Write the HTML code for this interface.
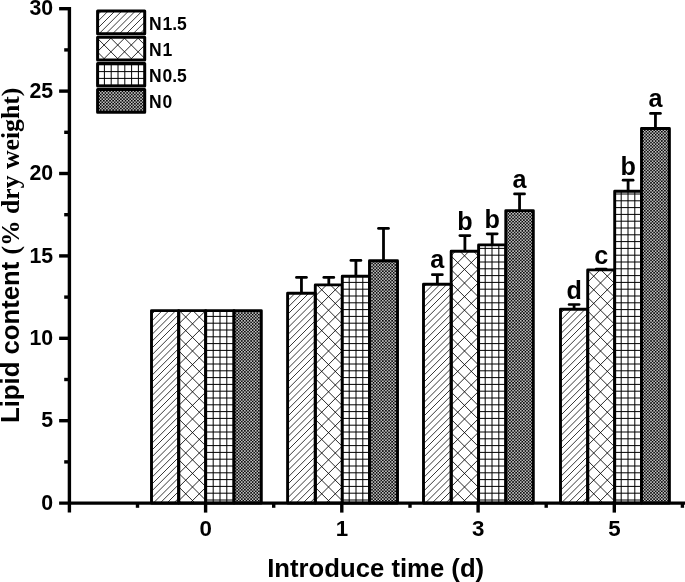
<!DOCTYPE html>
<html lang="en"><head><meta charset="utf-8"><title>Lipid content</title>
<style>
html,body{margin:0;padding:0;background:#fff;}
body{width:685px;height:582px;overflow:hidden;}
svg{display:block;}
text{font-family:"Liberation Sans",Arial,sans-serif;font-weight:bold;fill:#000;}
.serif{font-family:"Liberation Serif","Times New Roman",serif;font-weight:bold;}
</style></head><body>
<svg width="685" height="582" viewBox="0 0 685 582">
<defs>
<pattern id="p1" patternUnits="userSpaceOnUse" width="34" height="34"><path d="M-2.00 -8.00L-8.00 -2.00M-2.00 -1.20L-1.20 -2.00M-2.00 5.60L5.60 -2.00M-2.00 12.40L12.40 -2.00M-2.00 19.20L19.20 -2.00M-2.00 26.00L26.00 -2.00M-2.00 32.80L32.80 -2.00M-2.00 39.60L39.60 -2.00M-2.00 46.40L46.40 -2.00M-2.00 53.20L53.20 -2.00M-2.00 60.00L60.00 -2.00M-2.00 66.80L66.80 -2.00M-2.00 73.60L73.60 -2.00" stroke="#000" stroke-width="0.78" fill="none"/></pattern>
<pattern id="p2" patternUnits="userSpaceOnUse" width="68" height="68"><path d="M-2.00 -12.10L-12.10 -2.00M-2.00 1.50L1.50 -2.00M-2.00 15.10L15.10 -2.00M-2.00 28.70L28.70 -2.00M-2.00 42.30L42.30 -2.00M-2.00 55.90L55.90 -2.00M-2.00 69.50L69.50 -2.00M-2.00 83.10L83.10 -2.00M-2.00 96.70L96.70 -2.00M-2.00 110.30L110.30 -2.00M-2.00 123.90L123.90 -2.00M-2.00 137.50L137.50 -2.00M-2.00 151.10L151.10 -2.00M-92.50 -2.00L-20.50 70.00M-78.90 -2.00L-6.90 70.00M-65.30 -2.00L6.70 70.00M-51.70 -2.00L20.30 70.00M-38.10 -2.00L33.90 70.00M-24.50 -2.00L47.50 70.00M-10.90 -2.00L61.10 70.00M2.70 -2.00L74.70 70.00M16.30 -2.00L88.30 70.00M29.90 -2.00L101.90 70.00M43.50 -2.00L115.50 70.00M57.10 -2.00L129.10 70.00M70.70 -2.00L142.70 70.00" stroke="#000" stroke-width="0.85" fill="none"/></pattern>
<pattern id="p4" patternUnits="userSpaceOnUse" width="3.1" height="3.1"><rect width="3.1" height="3.1" fill="#fff"/><path d="M-2.00 -1.10L-1.10 -2.00M-2.00 2.00L2.00 -2.00M-2.00 5.10L5.10 -2.00M-2.00 8.20L8.20 -2.00M-2.00 11.30L11.30 -2.00M-8.20 -2.00L-1.10 5.10M-5.10 -2.00L2.00 5.10M-2.00 -2.00L5.10 5.10M1.10 -2.00L8.20 5.10M4.20 -2.00L11.30 5.10" stroke="#000" stroke-width="0.78" fill="none"/></pattern>
</defs>
<rect width="685" height="582" fill="#fff"/>
<g stroke="#000" stroke-width="2.9" stroke-linejoin="round">
<rect x="151.50" y="310.60" width="27.20" height="192.50" fill="url(#p1)"/>
<rect x="178.70" y="310.60" width="27.00" height="192.50" fill="url(#p2)"/>
<rect x="205.70" y="310.60" width="28.30" height="192.50" fill="#fff" stroke="none"/>
<path d="M206.4 310.6V503.1M213.2 310.6V503.1M220.0 310.6V503.1M226.8 310.6V503.1M233.6 310.6V503.1M205.7 316.4H234.0M205.7 323.2H234.0M205.7 330.0H234.0M205.7 336.8H234.0M205.7 343.6H234.0M205.7 350.4H234.0M205.7 357.2H234.0M205.7 364.0H234.0M205.7 370.8H234.0M205.7 377.6H234.0M205.7 384.4H234.0M205.7 391.2H234.0M205.7 398.0H234.0M205.7 404.8H234.0M205.7 411.6H234.0M205.7 418.4H234.0M205.7 425.2H234.0M205.7 432.0H234.0M205.7 438.8H234.0M205.7 445.6H234.0M205.7 452.4H234.0M205.7 459.2H234.0M205.7 466.0H234.0M205.7 472.8H234.0M205.7 479.6H234.0M205.7 486.4H234.0M205.7 493.2H234.0M205.7 500.0H234.0" stroke="#000" stroke-width="1" fill="none"/>
<rect x="205.70" y="310.60" width="28.30" height="192.50" fill="none"/>
<rect x="234.00" y="310.60" width="27.30" height="192.50" fill="url(#p4)"/>
<rect x="287.60" y="293.20" width="27.70" height="209.90" fill="url(#p1)"/>
<rect x="315.30" y="284.90" width="27.00" height="218.20" fill="url(#p2)"/>
<rect x="342.30" y="276.30" width="27.20" height="226.80" fill="#fff" stroke="none"/>
<path d="M342.4 276.3V503.1M349.2 276.3V503.1M356.0 276.3V503.1M362.8 276.3V503.1M342.3 282.4H369.5M342.3 289.2H369.5M342.3 296.0H369.5M342.3 302.8H369.5M342.3 309.6H369.5M342.3 316.4H369.5M342.3 323.2H369.5M342.3 330.0H369.5M342.3 336.8H369.5M342.3 343.6H369.5M342.3 350.4H369.5M342.3 357.2H369.5M342.3 364.0H369.5M342.3 370.8H369.5M342.3 377.6H369.5M342.3 384.4H369.5M342.3 391.2H369.5M342.3 398.0H369.5M342.3 404.8H369.5M342.3 411.6H369.5M342.3 418.4H369.5M342.3 425.2H369.5M342.3 432.0H369.5M342.3 438.8H369.5M342.3 445.6H369.5M342.3 452.4H369.5M342.3 459.2H369.5M342.3 466.0H369.5M342.3 472.8H369.5M342.3 479.6H369.5M342.3 486.4H369.5M342.3 493.2H369.5M342.3 500.0H369.5" stroke="#000" stroke-width="1" fill="none"/>
<rect x="342.30" y="276.30" width="27.20" height="226.80" fill="none"/>
<rect x="369.50" y="260.70" width="28.00" height="242.40" fill="url(#p4)"/>
<rect x="423.50" y="284.30" width="27.70" height="218.80" fill="url(#p1)"/>
<rect x="451.20" y="251.30" width="27.40" height="251.80" fill="url(#p2)"/>
<rect x="478.60" y="244.90" width="27.20" height="258.20" fill="#fff" stroke="none"/>
<path d="M485.2 244.9V503.1M492.0 244.9V503.1M498.8 244.9V503.1M505.6 244.9V503.1M478.6 248.4H505.8M478.6 255.2H505.8M478.6 262.0H505.8M478.6 268.8H505.8M478.6 275.6H505.8M478.6 282.4H505.8M478.6 289.2H505.8M478.6 296.0H505.8M478.6 302.8H505.8M478.6 309.6H505.8M478.6 316.4H505.8M478.6 323.2H505.8M478.6 330.0H505.8M478.6 336.8H505.8M478.6 343.6H505.8M478.6 350.4H505.8M478.6 357.2H505.8M478.6 364.0H505.8M478.6 370.8H505.8M478.6 377.6H505.8M478.6 384.4H505.8M478.6 391.2H505.8M478.6 398.0H505.8M478.6 404.8H505.8M478.6 411.6H505.8M478.6 418.4H505.8M478.6 425.2H505.8M478.6 432.0H505.8M478.6 438.8H505.8M478.6 445.6H505.8M478.6 452.4H505.8M478.6 459.2H505.8M478.6 466.0H505.8M478.6 472.8H505.8M478.6 479.6H505.8M478.6 486.4H505.8M478.6 493.2H505.8M478.6 500.0H505.8" stroke="#000" stroke-width="1" fill="none"/>
<rect x="478.60" y="244.90" width="27.20" height="258.20" fill="none"/>
<rect x="505.80" y="210.60" width="27.50" height="292.50" fill="url(#p4)"/>
<rect x="560.50" y="309.20" width="27.20" height="193.90" fill="url(#p1)"/>
<rect x="587.70" y="269.90" width="27.00" height="233.20" fill="url(#p2)"/>
<rect x="614.70" y="191.30" width="26.80" height="311.80" fill="#fff" stroke="none"/>
<path d="M621.2 191.3V503.1M628.0 191.3V503.1M634.8 191.3V503.1M614.7 194.0H641.5M614.7 200.8H641.5M614.7 207.6H641.5M614.7 214.4H641.5M614.7 221.2H641.5M614.7 228.0H641.5M614.7 234.8H641.5M614.7 241.6H641.5M614.7 248.4H641.5M614.7 255.2H641.5M614.7 262.0H641.5M614.7 268.8H641.5M614.7 275.6H641.5M614.7 282.4H641.5M614.7 289.2H641.5M614.7 296.0H641.5M614.7 302.8H641.5M614.7 309.6H641.5M614.7 316.4H641.5M614.7 323.2H641.5M614.7 330.0H641.5M614.7 336.8H641.5M614.7 343.6H641.5M614.7 350.4H641.5M614.7 357.2H641.5M614.7 364.0H641.5M614.7 370.8H641.5M614.7 377.6H641.5M614.7 384.4H641.5M614.7 391.2H641.5M614.7 398.0H641.5M614.7 404.8H641.5M614.7 411.6H641.5M614.7 418.4H641.5M614.7 425.2H641.5M614.7 432.0H641.5M614.7 438.8H641.5M614.7 445.6H641.5M614.7 452.4H641.5M614.7 459.2H641.5M614.7 466.0H641.5M614.7 472.8H641.5M614.7 479.6H641.5M614.7 486.4H641.5M614.7 493.2H641.5M614.7 500.0H641.5" stroke="#000" stroke-width="1" fill="none"/>
<rect x="614.70" y="191.30" width="26.80" height="311.80" fill="none"/>
<rect x="641.50" y="128.50" width="27.90" height="374.60" fill="url(#p4)"/>
</g>
<g stroke="#000" stroke-width="2.8" stroke-linecap="butt" fill="none">
<path d="M301.45 293.20V277.40"/><path stroke-linecap="round" stroke-width="2.7" d="M296.45 277.40H306.45"/>
<path d="M328.80 284.90V277.40"/><path stroke-linecap="round" stroke-width="2.7" d="M323.80 277.40H333.80"/>
<path d="M355.90 276.30V260.40"/><path stroke-linecap="round" stroke-width="2.7" d="M350.90 260.40H360.90"/>
<path d="M383.50 260.70V228.40"/><path stroke-linecap="round" stroke-width="2.7" d="M378.50 228.40H388.50"/>
<path d="M437.35 284.30V274.70"/><path stroke-linecap="round" stroke-width="2.7" d="M432.35 274.70H442.35"/>
<path d="M464.90 251.30V235.60"/><path stroke-linecap="round" stroke-width="2.7" d="M459.90 235.60H469.90"/>
<path d="M492.20 244.90V233.80"/><path stroke-linecap="round" stroke-width="2.7" d="M487.20 233.80H497.20"/>
<path d="M519.55 210.60V193.90"/><path stroke-linecap="round" stroke-width="2.7" d="M514.55 193.90H524.55"/>
<path d="M574.10 309.20V304.50"/><path stroke-linecap="round" stroke-width="2.7" d="M569.10 304.50H579.10"/>
<path d="M601.20 269.90V269.20"/><path stroke-linecap="round" stroke-width="2.7" d="M596.20 269.20H606.20"/>
<path d="M628.10 191.30V180.20"/><path stroke-linecap="round" stroke-width="2.7" d="M623.10 180.20H633.10"/>
<path d="M655.45 128.50V113.40"/><path stroke-linecap="round" stroke-width="2.7" d="M650.45 113.40H660.45"/>
</g>
<g font-size="25.2" text-anchor="middle">
<text x="437.35" y="268.2">a</text>
<text x="464.90" y="230.0">b</text>
<text x="492.20" y="228.0">b</text>
<text x="519.55" y="187.9">a</text>
<text x="574.10" y="299.4">d</text>
<text x="601.20" y="264.1">c</text>
<text x="628.10" y="174.6">b</text>
<text x="655.45" y="107.3">a</text>
</g>
<g stroke="#000" stroke-width="3.4" fill="none">
<path d="M69.4 7.00V512.6"/>
<path d="M59.1 503.1H685"/>
<path d="M64.2 461.90H69.4"/>
<path d="M59.1 420.70H69.4"/>
<path d="M64.2 379.50H69.4"/>
<path d="M59.1 338.30H69.4"/>
<path d="M64.2 297.10H69.4"/>
<path d="M59.1 255.90H69.4"/>
<path d="M64.2 214.70H69.4"/>
<path d="M59.1 173.50H69.4"/>
<path d="M64.2 132.30H69.4"/>
<path d="M59.1 91.10H69.4"/>
<path d="M64.2 49.90H69.4"/>
<path d="M59.1 8.70H69.4"/>
<path d="M205.6 503.1V512.6"/>
<path d="M137.50 503.1V507.8"/>
<path d="M341.8 503.1V512.6"/>
<path d="M273.70 503.1V507.8"/>
<path d="M478.1 503.1V512.6"/>
<path d="M410.00 503.1V507.8"/>
<path d="M614.3 503.1V512.6"/>
<path d="M546.20 503.1V507.8"/>
<path d="M682.40 503.1V507.8"/>
</g>
<g font-size="22.3" text-anchor="end">
<text transform="translate(53.1 509.8) scale(0.955 1)">0</text>
<text transform="translate(53.1 427.4) scale(0.955 1)">5</text>
<text transform="translate(53.1 345.0) scale(0.955 1)">10</text>
<text transform="translate(53.1 262.6) scale(0.955 1)">15</text>
<text transform="translate(53.1 180.2) scale(0.955 1)">20</text>
<text transform="translate(53.1 97.8) scale(0.955 1)">25</text>
<text transform="translate(53.1 15.4) scale(0.955 1)">30</text>
</g>
<g font-size="22.3" text-anchor="middle">
<text x="205.8" y="536.1">0</text>
<text x="342.0" y="536.1">1</text>
<text x="478.3" y="536.1">3</text>
<text x="614.5" y="536.1">5</text>
</g>
<text x="375.7" y="577" font-size="25.7" text-anchor="middle">Introduce time (d)</text>
<text transform="translate(18.9 255.3) rotate(-90)" font-size="25.7" text-anchor="middle" xml:space="preserve">Lipid content <tspan class="serif">(% dry weight)</tspan></text>
<g stroke="#000" stroke-width="3" stroke-linejoin="round">
<rect x="97.60" y="11.00" width="47.10" height="22.70" fill="url(#p1)"/>
<rect x="97.60" y="37.20" width="47.10" height="22.70" fill="url(#p2)"/>
<rect x="97.60" y="63.40" width="47.10" height="22.70" fill="#fff" stroke="none"/>
<path d="M97.6 63.4V86.1M104.4 63.4V86.1M111.2 63.4V86.1M118.0 63.4V86.1M124.8 63.4V86.1M131.6 63.4V86.1M138.4 63.4V86.1M97.6 64.8H144.7M97.6 71.6H144.7M97.6 78.4H144.7M97.6 85.2H144.7" stroke="#000" stroke-width="1" fill="none"/>
<rect x="97.60" y="63.40" width="47.10" height="22.70" fill="none"/>
<rect x="97.60" y="89.60" width="47.10" height="22.70" fill="url(#p4)"/>
</g>
<g font-size="17.5">
<text x="148.9 162.5" y="29.7">N1.5</text>
<text x="148.9 162.5" y="55.9">N1</text>
<text x="148.9 162.5" y="82.1">N0.5</text>
<text x="148.9 162.5" y="108.3">N0</text>
</g>
</svg>
</body></html>
